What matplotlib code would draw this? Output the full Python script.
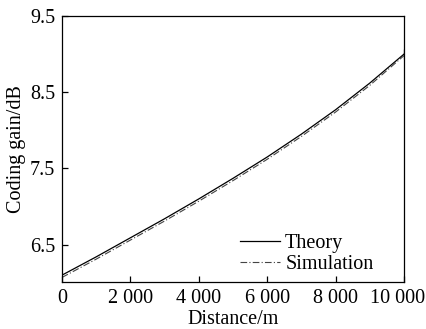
import matplotlib
matplotlib.use("Agg")
import matplotlib.pyplot as plt
from matplotlib.transforms import ScaledTranslation

plt.rcParams['font.family'] = ['Liberation Serif', 'DejaVu Serif']
plt.rcParams['font.size'] = 14.5

# coding gain versus distance
distance = [0, 1000, 2000, 3000, 4000, 5000, 6000, 7000, 8000, 9000, 10000]
theory = [6.10, 6.34, 6.59, 6.84, 7.10, 7.37, 7.65, 7.95, 8.27, 8.62, 9.00]
simulation = [6.07, 6.31, 6.56, 6.81, 7.07, 7.34, 7.62, 7.92, 8.24, 8.59, 8.98]

xticks = [0, 2000, 4000, 6000, 8000, 10000]
xtick_labels = ["0", "2 000", "4 000", "6 000", "8 000", "10 000"]
yticks = [6.5, 7.5, 8.5, 9.5]

fig = plt.figure(figsize=(4.27, 3.29), dpi=100)
ax = fig.add_axes([62 / 427, 1 - 282 / 329, (404 - 62) / 427, (282 - 16) / 329])

ax.plot(distance, theory, color='black', lw=0.9, label='Theory')
ax.plot(distance, simulation, color='#444444', lw=0.8, ls=(0, (6, 2, 1, 2)), label='Simulation')
ax.plot([distance[-1]], [theory[-1]], marker='|', ms=7, color='black', mew=0.9)

ax.set_xlim(0, 10000)
ax.set_ylim(6.01, 9.5)
ax.set_xticks(xticks)
ax.set_xticklabels(xtick_labels)
ax.set_yticks(yticks)
ax.tick_params(direction='in', length=4, width=0.9, pad=5)
for s in ax.spines.values():
    s.set_linewidth(0.9)

# keep the last tick label inside the figure
last = ax.get_xticklabels()[-1]
last.set_transform(last.get_transform() + ScaledTranslation(-6 / 100, 0, fig.dpi_scale_trans))

ax.set_xlabel('Distance/m', labelpad=1.5)
ax.set_ylabel('Coding gain/dB', labelpad=3)

ax.legend(loc='center left', bbox_to_anchor=(0.52, 0.105), frameon=False,
          borderpad=0, borderaxespad=0,
          handlelength=2.0, handletextpad=0.25, labelspacing=0.1)

fig.savefig('out.png', dpi=100)
